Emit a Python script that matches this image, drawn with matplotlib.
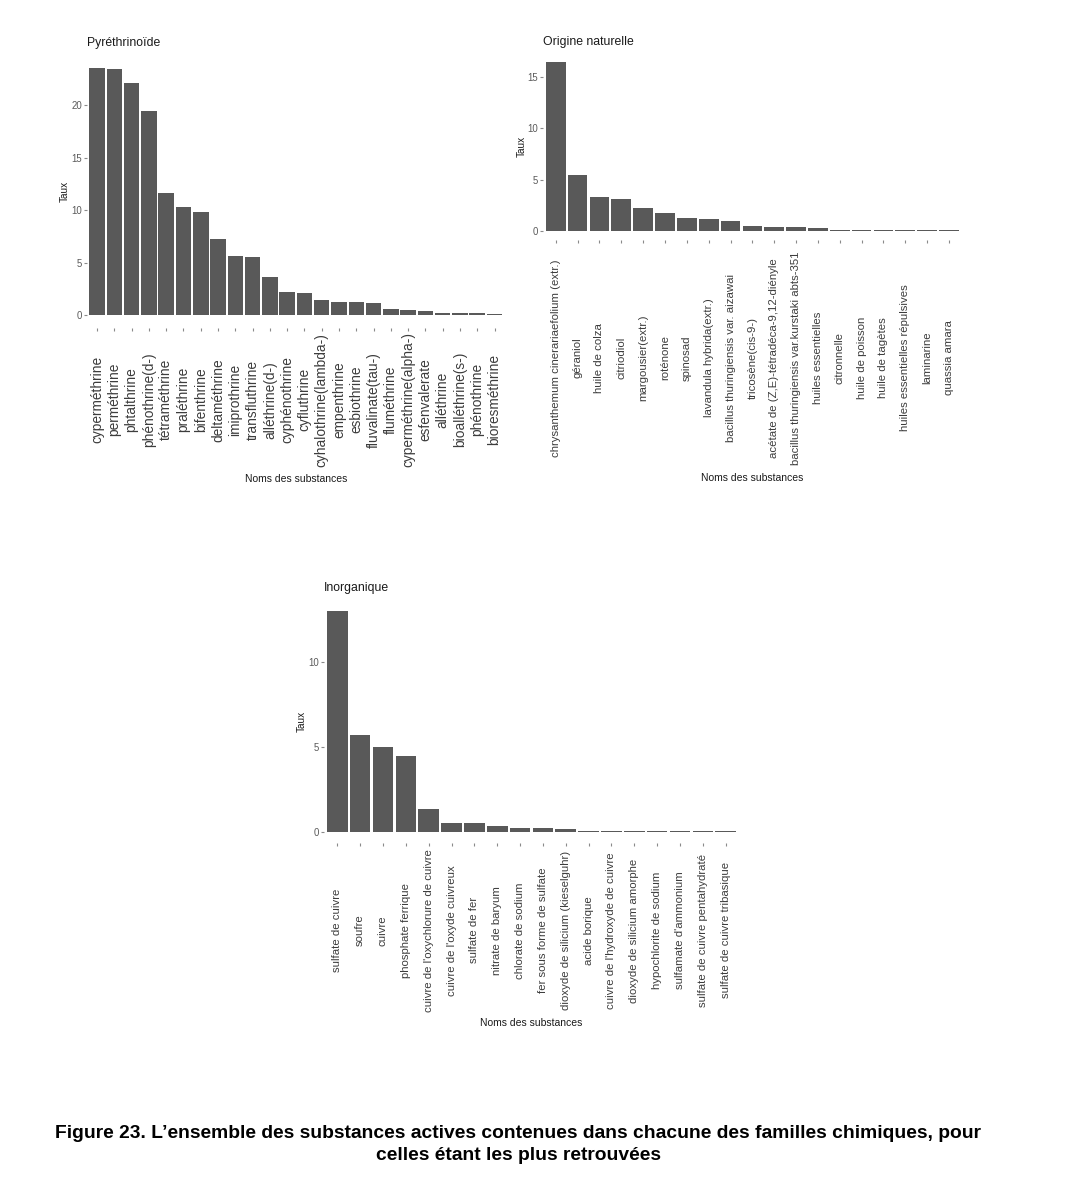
import matplotlib
matplotlib.use("Agg")
import matplotlib.pyplot as plt
import numpy as np

plt.rcParams['font.family'] = ['Liberation Sans', 'DejaVu Sans']

# ---------------- data ----------------
pyr_names = ["cyperméthrine", "perméthrine", "phtalthrine", "phénothrine(d-)", "tétraméthrine",
             "praléthrine", "bifenthrine", "deltaméthrine", "imiprothrine", "transfluthrine",
             "alléthrine(d-)", "cyphénothrine", "cyfluthrine", "cyhalothrine(lambda-)",
             "empenthrine", "esbiothrine", "fluvalinate(tau-)", "fluméthrine",
             "cyperméthrine(alpha-)", "esfenvalerate", "alléthrine", "bioalléthrine(s-)",
             "phénothrine", "bioresméthrine"]
pyr_values = [23.6, 23.5, 22.15, 19.45, 11.65, 10.3, 9.85, 7.3, 5.68, 5.58, 3.68, 2.22, 2.12,
              1.42, 1.3, 1.24, 1.22, 0.63, 0.53, 0.41, 0.25, 0.25, 0.25, 0.15]

nat_names = ["chrysanthemum cinerariaefolium (extr.)", "géraniol", "huile de colza", "citriodiol",
             "margousier(extr.)", "roténone", "spinosad", "lavandula hybrida(extr.)",
             "bacillus thuringiensis var. aizawai", "tricosène(cis-9-)",
             "acétate de (Z,E)-tétradéca-9,12-diényle", "bacillus thuringiensis var.kurstaki abts-351",
             "huiles essentielles", "citronnelle", "huile de poisson", "huile de tagètes",
             "huiles essentielles répulsives", "laminarine", "quassia amara"]
nat_values = [16.42, 5.44, 3.3, 3.11, 2.3, 1.81, 1.26, 1.2, 1.0, 0.55, 0.45, 0.45, 0.29,
              0.13, 0.13, 0.13, 0.13, 0.13, 0.13]

ino_names = ["sulfate de cuivre", "soufre", "cuivre", "phosphate ferrique",
             "cuivre de l'oxychlorure de cuivre", "cuivre de l'oxyde cuivreux", "sulfate de fer",
             "nitrate de baryum", "chlorate de sodium", "fer sous forme de sulfate",
             "dioxyde de silicium (kieselguhr)", "acide borique", "cuivre de l'hydroxyde de cuivre",
             "dioxyde de silicium amorphe", "hypochlorite de sodium", "sulfamate d'ammonium",
             "sulfate de cuivre pentahydraté", "sulfate de cuivre tribasique"]
ino_values = [12.98, 5.7, 4.98, 4.49, 1.37, 0.53, 0.53, 0.37, 0.27, 0.27, 0.18,
              0.1, 0.1, 0.1, 0.1, 0.1, 0.1, 0.1]

titles = ["Pyréthrinoïde", "Origine naturelle", "Inorganique"]
yticks_list = [[0, 5, 10, 15, 20], [0, 5, 10, 15], [0, 5, 10]]

# ---------------- layout (pixels) ----------------
W, H = 1079, 1200
DPI = 100
fig = plt.figure(figsize=(W / DPI, H / DPI), dpi=DPI)
fig.patch.set_facecolor('white')

panels = [
    dict(l=86.7, r=504.9, t=55.3, b=327.7, lab_off=72, fs=9.9, ylab_x=65, xlab_y=479.3),
    dict(l=542.7, r=962.0, t=53.9, b=239.8, lab_off=118, fs=8.2, ylab_x=521.5, xlab_y=478.0),
    dict(l=323.6, r=739.4, t=599.6, b=843.4, lab_off=87, fs=8.2, ylab_x=302, xlab_y=1022.7),
]
data = [(pyr_names, pyr_values), (nat_names, nat_values), (ino_names, ino_values)]

bar_color = '#595959'
px2pt = 72.0 / DPI
tick_len = 2.0

for p, (names, vals), title, yt in zip(panels, data, titles, yticks_list):
    w = p['r'] - p['l']
    h = p['b'] - p['t']
    ax = fig.add_axes([p['l'] / W, 1 - p['b'] / H, w / W, h / H])
    n = len(names)
    x = np.arange(1, n + 1)
    ax.bar(x, vals, width=0.9, color=bar_color, edgecolor='none')
    vmax = max(vals)
    ax.set_xlim(0.4, n + 0.6)
    ax.set_ylim(-0.05 * vmax, 1.05 * vmax)
    for s in ax.spines.values():
        s.set_visible(False)
    ax.set_xticks(x)
    ax.set_xticklabels(names, rotation=90, ha='center', va='center',
                       fontsize=p['fs'], color='#3c3c3c')
    pad = (p['lab_off'] - tick_len / px2pt) * px2pt
    ax.tick_params(axis='x', length=tick_len, width=0.8, color='#8a8a8a', pad=pad)
    ax.set_yticks(yt)
    ax.set_yticklabels([str(v) for v in yt], fontsize=6.9, color='#5a5a5a')
    ax.tick_params(axis='y', length=tick_len, width=0.8, color='#8a8a8a', pad=1.5)

    ax.set_ylabel("Taux", fontsize=7.2, color='#1a1a1a')
    ax.yaxis.set_label_coords((p['ylab_x'] - p['l']) / w, 0.5)
    ax.yaxis.label.set_va('center')
    ax.set_xlabel("Noms des substances", fontsize=7.5, color='#1a1a1a')
    ax.xaxis.set_label_coords(0.5, (p['b'] - p['xlab_y']) / h)
    ax.xaxis.label.set_va('center')

    ax.set_title(title, loc='left', fontsize=8.8, color='#1a1a1a',
                 y=1 + 12.0 / h, pad=0, va='center')

fig.text(518 / W, 1 - 1133 / H,
         "Figure 23. L\u2019ensemble des substances actives contenues dans chacune des familles chimiques, pour",
         ha='center', va='center', fontsize=13.9, fontweight='bold', color='black')
fig.text(518 / W, 1 - 1155 / H, "celles étant les plus retrouvées",
         ha='center', va='center', fontsize=13.9, fontweight='bold', color='black')

fig.savefig("out.png", dpi=DPI, facecolor='white')
